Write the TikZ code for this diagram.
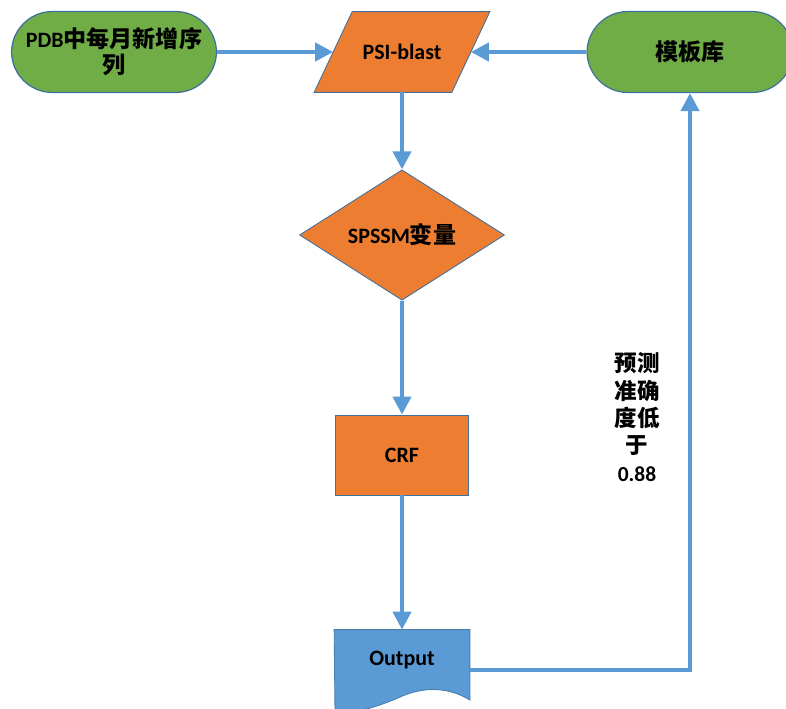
\documentclass[tikz,border=0pt]{standalone}
\usepackage{fontspec}
\setmainfont{Carlito}
\newfontfamily\cjk[Scale=1.05]{Noto Sans CJK SC}
\usetikzlibrary{shapes.geometric,arrows.meta,backgrounds}

\definecolor{termgreen}{HTML}{70AD47}
\definecolor{steporange}{HTML}{ED7D31}
\definecolor{docblue}{HTML}{5B9BD5}
\definecolor{edgeblue}{HTML}{41719C}

\begin{document}
\begin{tikzpicture}[x=0.02cm, y=-0.02cm,
  every node/.style={align=center, inner sep=0pt, font=\bfseries\fontsize{12.5}{14.7}\selectfont},
  term/.style={rounded corners=0.82cm, fill=termgreen, draw=edgeblue, line width=0.7pt, minimum height=1.62cm},
  choice/.style={diamond, fill=steporange, draw=edgeblue, line width=0.5pt, minimum width=4.1cm, minimum height=2.4cm},
  stepbox/.style={fill=steporange, draw=edgeblue, line width=0.5pt, minimum width=2.66cm, minimum height=1.6cm},
  flow/.style={draw=docblue, line width=2.3pt, -{Triangle[width=0.36cm,length=0.36cm]}}]
  \useasboundingbox (0,0) rectangle (786,708);
  \node[term, minimum width=4.1cm] (pdb) at (114,52) {PDB{\cjk 中每月新增序}\\{\cjk 列}};
  \node[minimum width=2.74cm, minimum height=1.6cm] (psi) at (402,52) {PSI-blast};
  \node[term, minimum width=4.12cm] (lib) at (690,52) {\cjk 模板库};
  \node[choice] (spssm) at (402,235) {SPSSM{\cjk 变量}};
  \node[stepbox] (crf) at (402,455) {CRF};
  \node[minimum width=2.7cm, minimum height=1.2cm] (out) at (402,660) {Output};
  \node[font=\bfseries\fontsize{12.2}{15.6}\selectfont] (cond) at (637,417) {\cjk 预测\\\cjk 准确\\\cjk 度低\\\cjk 于\\0.88};
  \begin{scope}[on background layer]
    % parallelogram behind PSI-blast
    \filldraw[fill=steporange, draw=edgeblue, line width=0.5pt]
      ([xshift=0.38cm]psi.north west) -- ([xshift=0.38cm]psi.north east)
      -- ([xshift=-0.38cm]psi.south east) -- ([xshift=-0.38cm]psi.south west) -- cycle;
    % document shape of the output
    \filldraw[fill=docblue, draw=edgeblue!70!docblue, line width=0.5pt] (out.north west) -- (out.north east) -- (470,700)
      .. controls (445,685) and (420,688) .. (400,697)
      .. controls (375,708) and (350,715) .. (335,712) -- cycle;
  \end{scope}
  \draw[flow] (pdb) -- (psi.west);
  \draw[flow] (lib) -- (psi.east);
  \draw[flow] (psi) -- (spssm);
  \draw[flow] (spssm) -- (crf);
  \draw[flow] (crf) -- (out);
  \draw[flow] ([yshift=-0.2cm]out.east) -| (lib.south);
\end{tikzpicture}
\end{document}
